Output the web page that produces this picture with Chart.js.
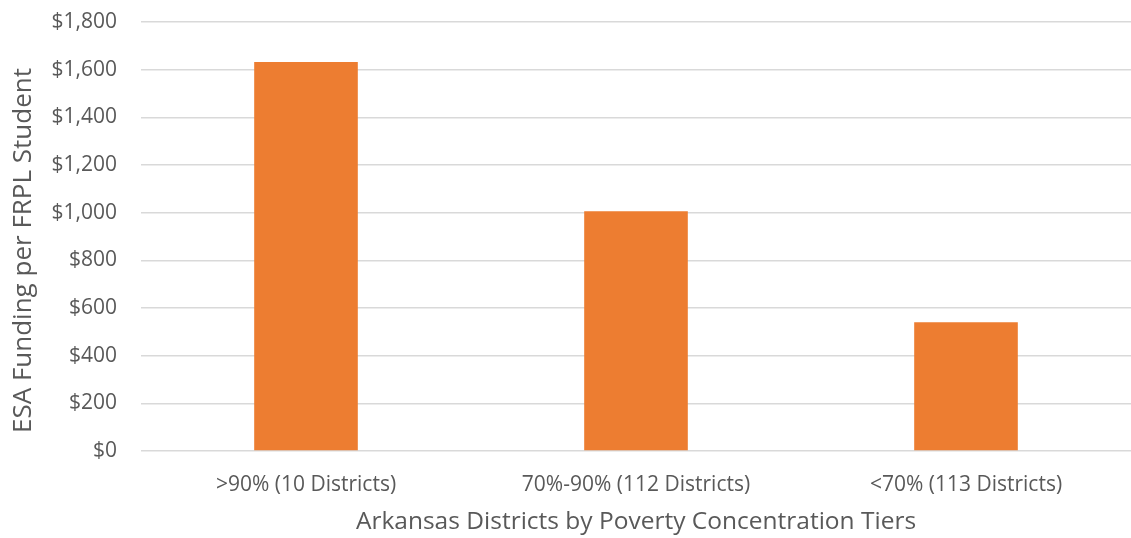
<html>
<head>
  <meta charset="UTF-8">
  <title>ESA Funding per FRPL Student</title>
  <script src="https://cdn.jsdelivr.net/npm/chart.js"></script>
  <style>
    body { margin: 0; background: #fff; }
  </style>
</head>
<body>
  <canvas id="myChart" width="1131" height="538"></canvas>
  <script>
    // datos
    const categorias = ['>90% (10 Districts)', '70%-90% (112 Districts)', '<70% (113 Districts)'];
    const fondos = [1632, 1006, 540];
    const ticksY = [0, 200, 400, 600, 800, 1000, 1200, 1400, 1600, 1800];
    const tituloY = 'ESA Funding per FRPL Student';

    const gris = '#595959';
    const fuente = "'Open Sans', sans-serif";

    // título del eje Y dibujado a mano (un poco más abajo que el centro del área)
    const tituloEjeY = {
      id: 'tituloEjeY',
      afterDraw(chart) {
        const c = chart.ctx;
        const area = chart.chartArea;
        c.save();
        c.translate(24, (area.top + area.bottom) / 2 + 14);
        c.rotate(-Math.PI / 2);
        c.font = '26px ' + fuente;
        c.fillStyle = gris;
        c.textAlign = 'center';
        c.textBaseline = 'middle';
        c.fillText(tituloY, 0, 0);
        c.restore();
      }
    };

    const ctx = document.getElementById('myChart').getContext('2d');
    const myChart = new Chart(ctx, {
      type: 'bar',
      data: {
        labels: categorias,
        datasets: [{
          label: 'ESA Funding',
          data: fondos,
          backgroundColor: '#ED7D31',
          categoryPercentage: 1,
          barPercentage: 0.314
        }]
      },
      options: {
        responsive: false,
        animation: false,
        layout: { padding: { top: 22, right: 0, bottom: 0, left: 0 } },
        plugins: {
          legend: { display: false },
          tooltip: { enabled: false }
        },
        scales: {
          x: {
            grid: { display: false },
            border: { display: false },
            ticks: { color: gris, font: { family: fuente, size: 21 }, padding: 13 },
            title: {
              display: true,
              text: 'Arkansas Districts by Poverty Concentration Tiers',
              color: gris,
              font: { family: fuente, size: 24.5 },
              padding: { top: 6, bottom: 1 }
            },
            afterFit: (scale) => { scale.height = 87; scale.paddingLeft = 0; scale.paddingRight = 0; }
          },
          y: {
            min: 0,
            max: 1800,
            afterBuildTicks: (scale) => { scale.ticks = ticksY.map(v => ({ value: v })); },
            grid: { color: '#d9d9d9', lineWidth: 1.5, drawTicks: false },
            border: { display: false },
            ticks: {
              color: gris,
              font: { family: fuente, size: 21 },
              padding: 24,
              callback: (v) => '$' + v.toLocaleString('en-US')
            },
            afterFit: (scale) => { scale.width = 141; scale.paddingTop = 0; scale.paddingBottom = 0; }
          }
        }
      },
      plugins: [tituloEjeY]
    });
  </script>
</body>
</html>
